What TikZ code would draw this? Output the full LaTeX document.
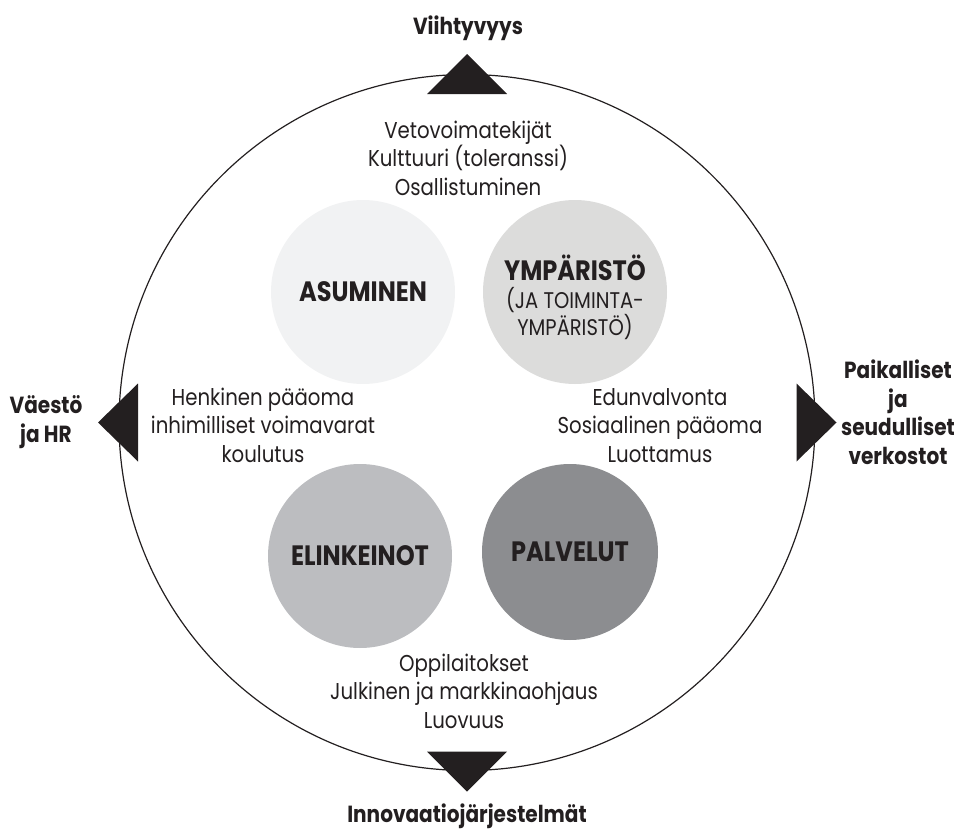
\documentclass[tikz,border=0pt]{standalone}
\usepackage{fontspec}
\setmainfont{Poppins}[FakeStretch=0.86]
\definecolor{ink}{HTML}{231F20}
\definecolor{discA}{HTML}{F1F2F3}
\definecolor{discB}{HTML}{DCDCDB}
\definecolor{discC}{HTML}{BCBDC0}
\definecolor{discD}{HTML}{8C8D90}
\tikzset{
  txt/.style={text=ink, inner sep=0pt, align=center, anchor=base,
    font=\fontsize{17.2}{21.2}\selectfont},
  outer/.style={text=ink, inner sep=0pt, align=center, anchor=base,
    font=\bfseries\fontsize{17.5}{21.3}\selectfont},
  disc/.style={circle, inner sep=0pt, minimum size=138pt, text=ink,
    align=center, font=\bfseries\fontsize{21}{24}\selectfont},
  ring/.style={circle, draw=ink, line width=0.9pt, inner sep=0pt, minimum size=522pt},
  wedge/.style={fill=ink}
}
\begin{document}
\begin{tikzpicture}[x=0.75pt, y=-0.75pt]
\useasboundingbox (0,0) rectangle (958,835);

% outer ring
\node[ring] (ring) at (467,422.5) {};

% four discs
\node[disc, fill=discA] (asum) at (363,292) {ASUMINEN};
\node[disc, fill=discB] (ymp) at (575,292) {};
\node[disc, fill=discC] (elin) at (360,556) {ELINKEINOT};
\node[disc, fill=discD, minimum size=132pt] (palv) at (570,552) {PALVELUT};

% three-line caption of the second disc
\node[txt, font=\fontsize{17}{18}\selectfont] (ymptext) at (575,335)
  {{\bfseries\fontsize{21}{24}\selectfont YMPÄRISTÖ}\\[3pt](JA TOIMINTA-\\YMPÄRISTÖ)};

% direction wedges on the ring
\fill[wedge, shift={(ring.center)}] (0,-368.5) -- (-40,-328.5) -- (40,-328.5) -- cycle;
\fill[wedge, shift={(ring.center)}] (0,369) -- (-40,329) -- (40,329) -- cycle;
\fill[wedge, shift={(ring.center)}] (-369,0) -- (-329,-39) -- (-329,39) -- cycle;
\fill[wedge, shift={(ring.center)}] (369.5,0) -- (329.5,-39) -- (329.5,39) -- cycle;

% outer labels
\node[outer] (top) at (468,35) {Viihtyvyys};
\node[outer] (left) at (46,442) {Väestö\\ja HR};
\node[outer] (right) at (898,464) {Paikalliset\\ja\\seudulliset\\verkostot};
\node[outer] (bottom) at (467,822) {Innovaatiojärjestelmät};

% inner texts
\node[txt] (ttop) at (468,195) {Vetovoimatekijät\\Kulttuuri (toleranssi)\\Osallistuminen};
\node[txt] (tleft) at (263,462) {Henkinen pääoma\\inhimilliset voimavarat\\koulutus};
\node[txt] (tright) at (660,462) {Edunvalvonta\\Sosiaalinen pääoma\\Luottamus};
\node[txt] (tbottom) at (464,728) {Oppilaitokset\\Julkinen ja markkinaohjaus\\Luovuus};
\end{tikzpicture}
\end{document}
